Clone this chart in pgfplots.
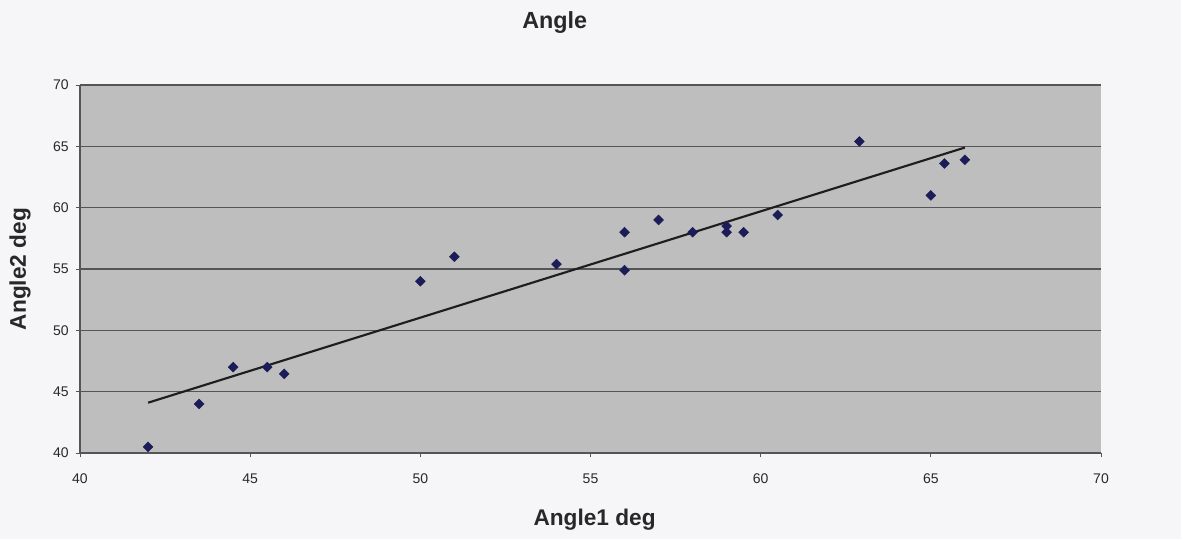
\documentclass[border=0pt]{standalone}
\usepackage{pgfplots}
\pgfplotsset{compat=1.18}
\usepackage{fontspec}
\setmainfont{Liberation Sans}

\definecolor{plotgray}{RGB}{190,190,190}
\definecolor{gridgray}{RGB}{85,85,85}
\definecolor{pagebg}{RGB}{246,246,249}
\definecolor{navy}{RGB}{28,28,88}
\definecolor{trend}{RGB}{30,30,30}
\definecolor{labelgray}{RGB}{40,40,40}

\begin{document}
\begin{tikzpicture}
  % page background (sets the picture size)
  \fill[pagebg] (-60pt,-64.5pt) rectangle (825.75pt,339.75pt);
  \begin{axis}[
    scale only axis,
    width=765.75pt, height=276pt,
    xmin=40, xmax=70, ymin=40, ymax=70,
    xtick={40,45,...,70}, ytick={40,45,...,70},
    axis background/.style={fill=plotgray},
    axis x line*=bottom, axis y line*=left,
    axis line style={gridgray, line width=0.8pt},
    tick align=outside, major tick length=3pt,
    tick style={gridgray, line width=0.6pt},
    ymajorgrids, grid style={gridgray, line width=1.1pt},
    /pgf/number format/assume math mode=true,
    tick label style={font=\fontsize{10.5}{12}\selectfont, text=labelgray},
    xticklabel style={yshift=-9pt},
    yticklabel style={xshift=-2pt},
    title={\textbf{Angle}},
    title style={at={(axis description cs:0.465,1.133)}, anchor=base,
                 font=\fontsize{17.5}{20}\selectfont, text=labelgray},
    xlabel={\textbf{Angle1 deg}},
    xlabel style={at={(axis description cs:0.504,-0.196)}, anchor=base,
                  font=\fontsize{17}{20}\selectfont, text=labelgray},
    ylabel={\textbf{Angle2 deg}},
    ylabel style={at={(axis description cs:-0.0588,0.5)}, anchor=center,
                  font=\fontsize{17}{20}\selectfont, text=labelgray},
    clip=false,
  ]
    % measured angles
    \addplot[only marks, mark=square*, mark size=2.6pt,
             mark options={rotate=45, fill=navy, draw=navy}]
      coordinates {
        (42.0,40.5) (43.5,44.0) (44.5,47.0) (45.5,47.0) (46.0,46.45)
        (50.0,54.0) (51.0,56.0) (54.0,55.4) (56.0,58.0) (56.0,54.9)
        (57.0,59.0) (58.0,58.0) (59.0,58.5) (59.0,58.0) (59.5,58.0)
        (60.5,59.4) (62.9,65.4) (65.0,61.0) (65.4,63.6) (66.0,63.9)
      };
    % linear trend line
    \addplot[trend, line width=1.6pt, no marks]
      coordinates {(42.0,44.1) (66.0,64.9)};
  \end{axis}
\end{tikzpicture}
\end{document}
